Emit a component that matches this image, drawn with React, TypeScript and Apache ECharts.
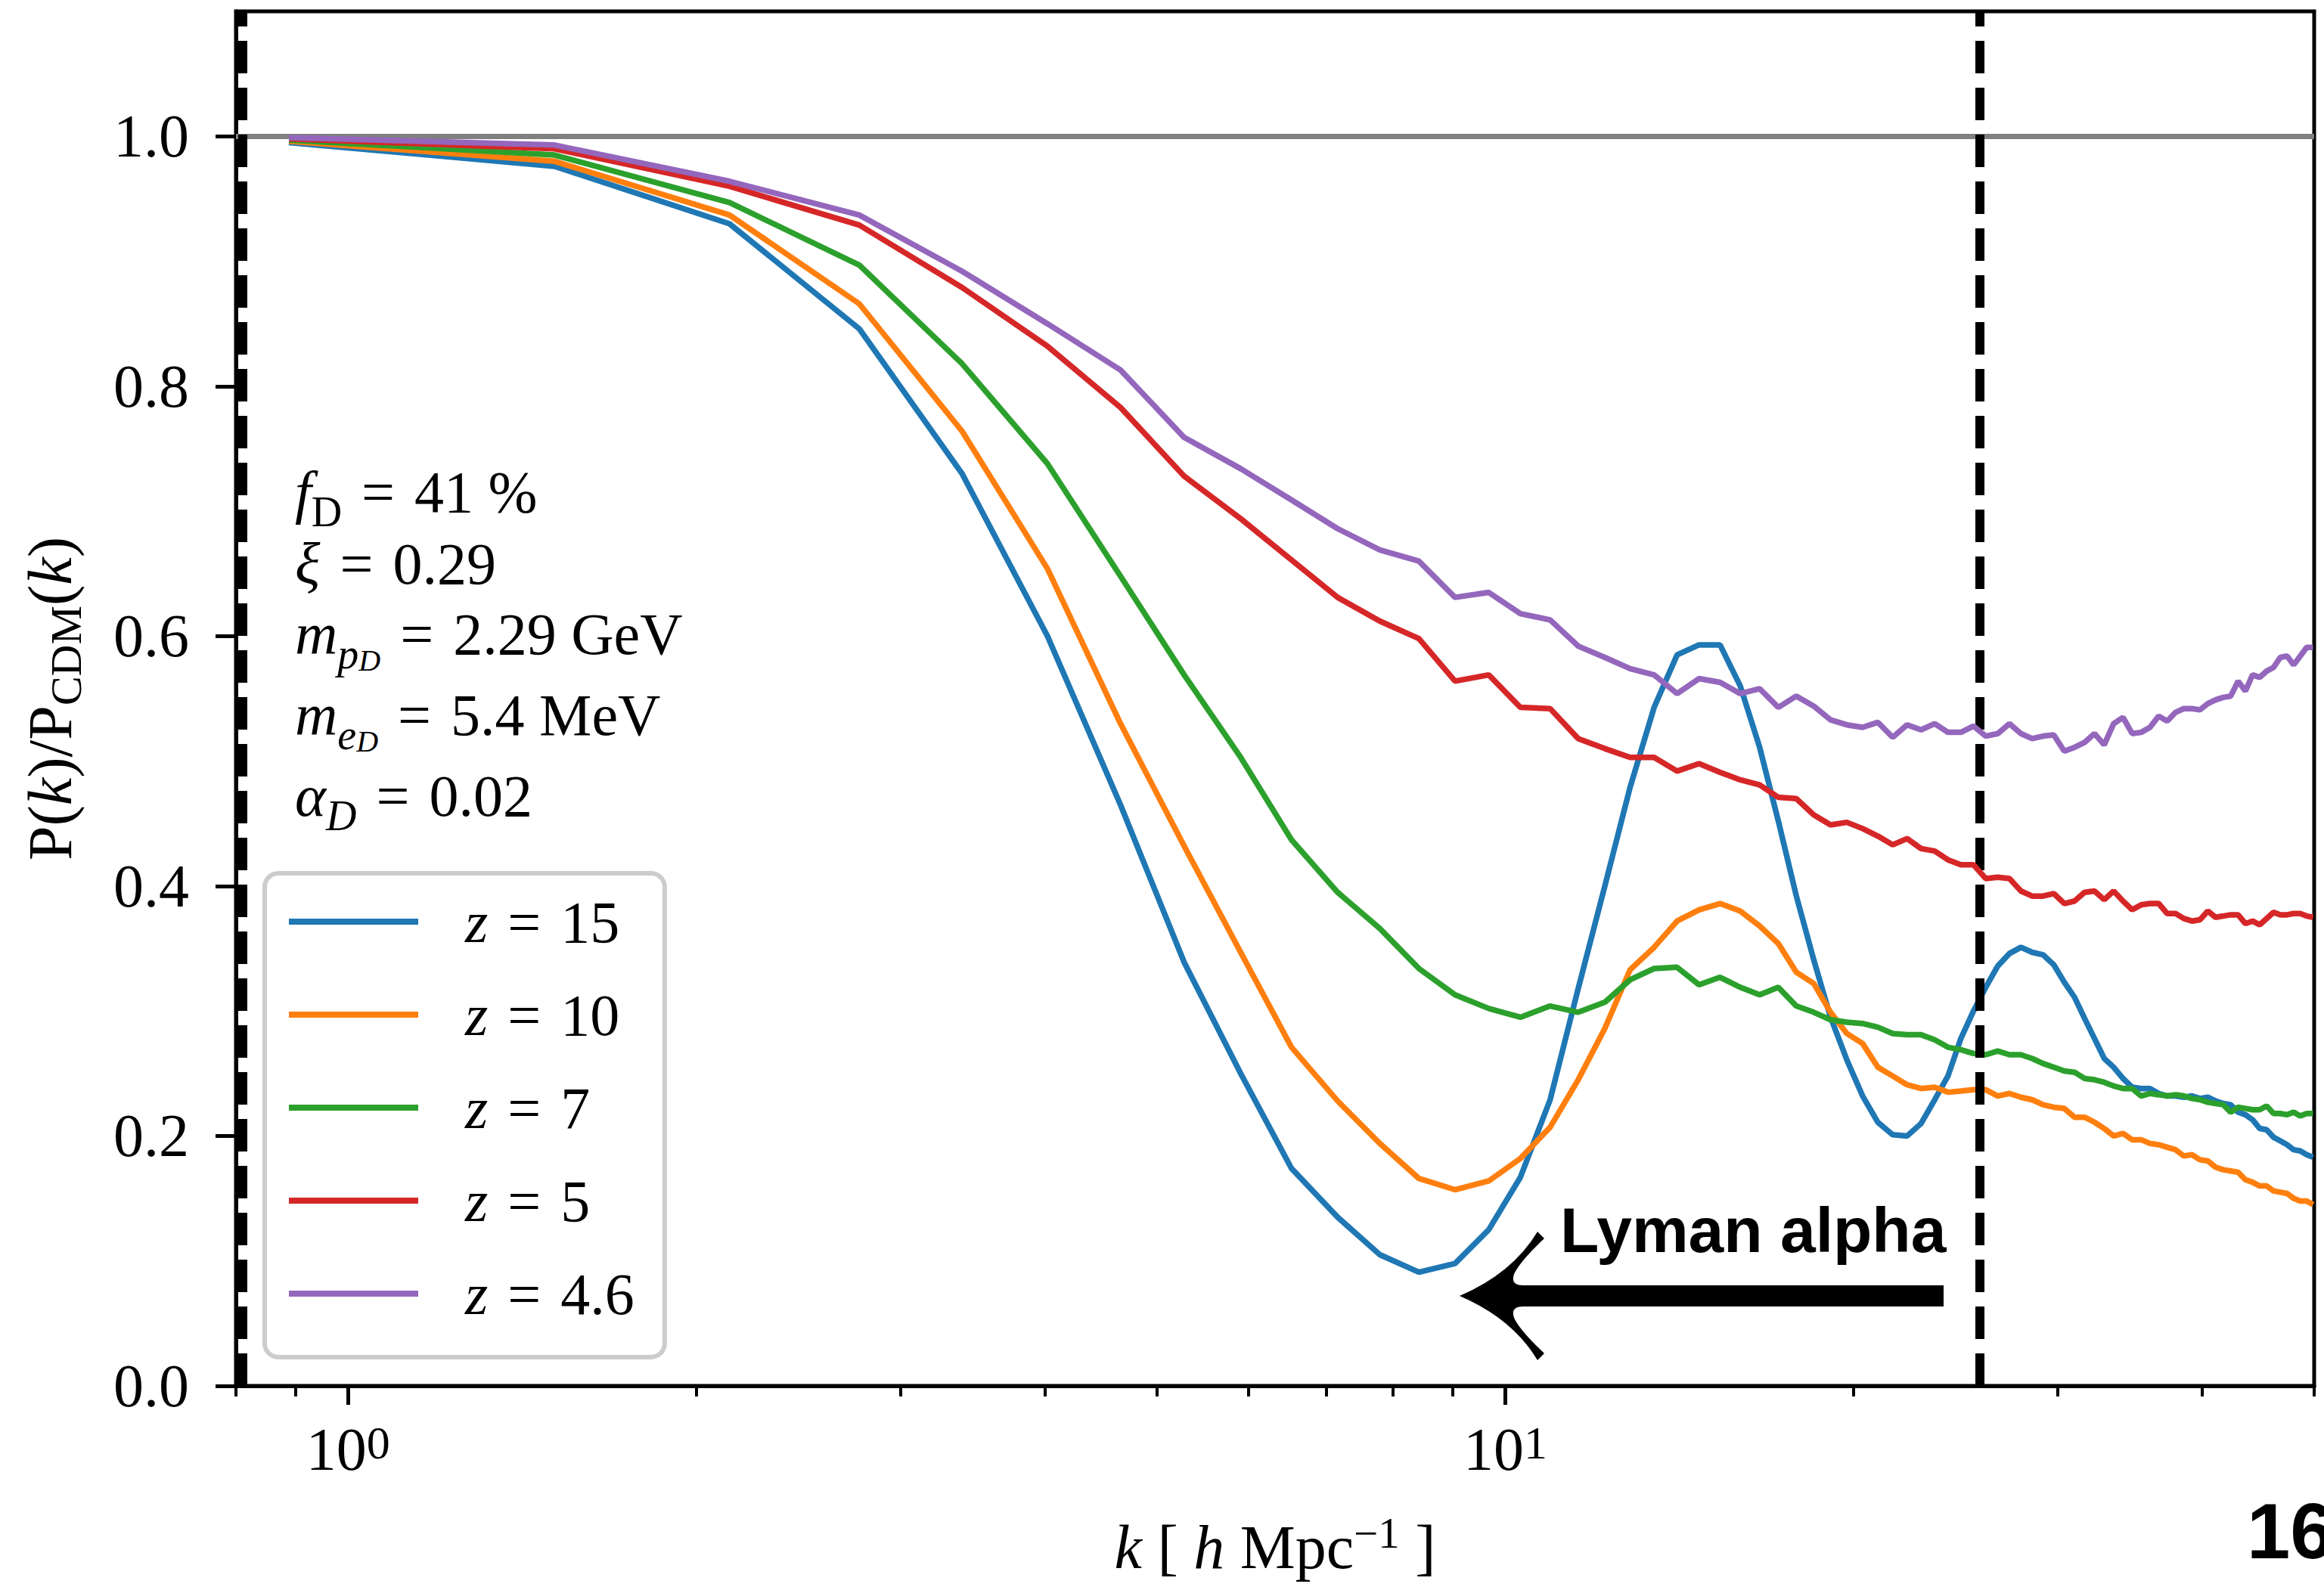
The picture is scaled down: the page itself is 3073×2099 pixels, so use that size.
import React, { useEffect, useRef } from "react";
import * as echarts from "echarts";

const SERIF = '"Liberation Serif", "DejaVu Serif", serif';
const SP = "\u2004";

// wavenumber bins k [h/Mpc]
const kValues = [
  0.889, 1.508, 2.136, 2.765, 3.393, 4.021, 4.65, 5.278, 5.906, 6.535,
  7.163, 7.791, 8.42, 9.048, 9.676, 10.305, 10.933, 11.561, 12.19, 12.818,
  13.446, 14.075, 14.703, 15.331, 15.96, 16.588, 17.216, 17.844, 18.473, 19.101,
  19.729, 20.358, 20.986, 21.614, 22.243, 22.871, 23.499, 24.127, 24.756, 25.384,
  26.013, 26.641, 27.269, 27.898, 28.526, 29.154, 29.782, 30.411, 31.039, 31.667,
  32.296, 32.924, 33.552, 34.181, 34.809, 35.437, 36.066, 36.694, 37.322, 37.95,
  38.579, 39.207, 39.835, 40.464, 41.092, 41.72, 42.349, 42.977, 43.605, 44.233,
  44.862, 45.49, 46.118, 46.747, 47.375, 48.003, 48.632, 49.26, 49.888,
];

const ratioZ15 = [
  0.995, 0.976, 0.93, 0.846, 0.73, 0.6, 0.465, 0.339, 0.25, 0.174,
  0.135, 0.105, 0.091, 0.098, 0.125, 0.167, 0.229, 0.318, 0.4, 0.479,
  0.543, 0.585, 0.593, 0.593, 0.56, 0.511, 0.452, 0.392, 0.341, 0.295,
  0.261, 0.232, 0.211, 0.201, 0.2, 0.21, 0.229, 0.248, 0.278, 0.3,
  0.319, 0.336, 0.346, 0.351, 0.347, 0.345, 0.337, 0.323, 0.311, 0.294,
  0.278, 0.262, 0.255, 0.246, 0.239, 0.238, 0.238, 0.234, 0.232, 0.232,
  0.231, 0.232, 0.23, 0.231, 0.228, 0.226, 0.225, 0.219, 0.217, 0.213,
  0.206, 0.205, 0.199, 0.196, 0.193, 0.189, 0.188, 0.185, 0.183,
];

const ratioZ10 = [
  0.996, 0.98, 0.937, 0.866, 0.764, 0.654, 0.53, 0.432, 0.347, 0.271,
  0.228, 0.194, 0.166, 0.157, 0.164, 0.182, 0.207, 0.245, 0.286, 0.333,
  0.351, 0.372, 0.381, 0.386, 0.38, 0.368, 0.354, 0.331, 0.322, 0.299,
  0.282, 0.274, 0.255, 0.248, 0.241, 0.238, 0.239, 0.235, 0.236, 0.237,
  0.237, 0.232, 0.234, 0.231, 0.229, 0.225, 0.223, 0.222, 0.215, 0.215,
  0.211, 0.206, 0.2, 0.202, 0.197, 0.197, 0.194, 0.193, 0.191, 0.189,
  0.184, 0.185, 0.181, 0.18, 0.175, 0.173, 0.172, 0.171, 0.165, 0.163,
  0.16, 0.16, 0.156, 0.155, 0.154, 0.15, 0.148, 0.148, 0.145,
];

const ratioZ7 = [
  0.997, 0.985, 0.947, 0.897, 0.818, 0.738, 0.648, 0.569, 0.503, 0.437,
  0.395, 0.366, 0.334, 0.313, 0.302, 0.295, 0.304, 0.299, 0.307, 0.325,
  0.334, 0.335, 0.321, 0.327, 0.319, 0.313, 0.319, 0.304, 0.299, 0.293,
  0.291, 0.29, 0.287, 0.282, 0.281, 0.281, 0.277, 0.271, 0.269, 0.266,
  0.265, 0.268, 0.265, 0.265, 0.262, 0.258, 0.255, 0.252, 0.251, 0.246,
  0.245, 0.243, 0.24, 0.238, 0.238, 0.232, 0.234, 0.233, 0.232, 0.233,
  0.232, 0.23, 0.229, 0.227, 0.226, 0.225, 0.219, 0.223, 0.222, 0.221,
  0.221, 0.224, 0.218, 0.218, 0.217, 0.219, 0.216, 0.218, 0.218,
];

const ratioZ5 = [
  0.998, 0.99, 0.96, 0.929, 0.879, 0.832, 0.783, 0.728, 0.694, 0.661,
  0.631, 0.612, 0.598, 0.564, 0.569, 0.543, 0.542, 0.518, 0.51, 0.503,
  0.503, 0.492, 0.498, 0.491, 0.485, 0.481, 0.471, 0.47, 0.457, 0.449,
  0.451, 0.446, 0.44, 0.433, 0.438, 0.43, 0.428, 0.421, 0.417, 0.417,
  0.406, 0.407, 0.406, 0.396, 0.392, 0.392, 0.394, 0.386, 0.388, 0.395,
  0.396, 0.389, 0.396, 0.388, 0.381, 0.385, 0.386, 0.386, 0.378, 0.378,
  0.374, 0.372, 0.373, 0.38, 0.375, 0.376, 0.377, 0.377, 0.37, 0.372,
  0.369, 0.374, 0.379, 0.377, 0.377, 0.378, 0.378, 0.376, 0.375,
];

const ratioZ46 = [
  0.999, 0.993, 0.964, 0.937, 0.892, 0.85, 0.813, 0.759, 0.734, 0.709,
  0.686, 0.669, 0.66, 0.631, 0.635, 0.618, 0.613, 0.592, 0.583, 0.574,
  0.569, 0.554, 0.566, 0.563, 0.554, 0.558, 0.543, 0.552, 0.544, 0.533,
  0.529, 0.527, 0.531, 0.519, 0.529, 0.525, 0.53, 0.523, 0.523, 0.528,
  0.52, 0.522, 0.53, 0.522, 0.518, 0.52, 0.521, 0.508, 0.511, 0.515,
  0.522, 0.513, 0.53, 0.535, 0.522, 0.523, 0.527, 0.536, 0.532, 0.539,
  0.542, 0.542, 0.541, 0.546, 0.549, 0.551, 0.552, 0.564, 0.556, 0.569,
  0.567, 0.572, 0.575, 0.583, 0.584, 0.577, 0.584, 0.591, 0.591,
];

const seriesNames = ["z = 15", "z = 10", "z = 7", "z = 5", "z = 4.6"];
const seriesValues = [ratioZ15, ratioZ10, ratioZ7, ratioZ5, ratioZ46];
const seriesColors = ["#1f77b4", "#ff7f0e", "#2ca02c", "#d62728", "#9467bd"];

const yTicks = [0, 0.2, 0.4, 0.6, 0.8, 1.0];
const xMajorTicks = [1, 10];
const xMinorTicks = [0.8, 0.9, 2, 3, 4, 5, 6, 7, 8, 9, 20, 30, 40, 50];
const referenceLevel = 1.0;
const lymanAlphaK = 25.7;
const lowCutK = 0.81;

const paramLines = [
  "{it|f}{subr|D}{n|" + SP + "=" + SP + "41 %}",
  "{it|ξ}{n|" + SP + "=" + SP + "0.29}",
  "{it|m}{subi|p}{subsub|D}{n|" + SP + "=" + SP + "2.29 GeV}",
  "{it|m}{subi|e}{subsub|D}{n|" + SP + "=" + SP + "5.4 MeV}",
  "{it|α}{subi|D}{n|" + SP + "=" + SP + "0.02}",
];
const paramCenters = [650, 745, 838, 945, 1052];

const arrowPath =
  "M0 0 Q70 -30 103 -85 L112 -76 Q80 -46 72 -29 Q67 -14 84 -14 L640 -14 L640 14 L84 14 Q67 14 72 29 Q80 46 112 76 L103 85 Q70 30 0 0 Z";
echarts.graphic.registerShape("lyArrow", echarts.graphic.extendPath(arrowPath, {}));

export default function App() {
  const ref = useRef<HTMLDivElement>(null);

  useEffect(() => {
    document.body.style.margin = "0";
    const chart = echarts.init(ref.current!, null, { renderer: "svg" });

    const paramRich = {
      n: { fontSize: 78, fontFamily: SERIF, lineHeight: 110, color: "#000" },
      it: { fontSize: 78, fontFamily: SERIF, fontStyle: "italic", lineHeight: 110, color: "#000" },
      subr: { fontSize: 56, fontFamily: SERIF, lineHeight: 63, verticalAlign: "bottom", color: "#000" },
      subi: { fontSize: 56, fontFamily: SERIF, fontStyle: "italic", lineHeight: 63, verticalAlign: "bottom", color: "#000" },
      subsub: { fontSize: 40, fontFamily: SERIF, fontStyle: "italic", lineHeight: 16, verticalAlign: "bottom", color: "#000" },
    };

    const series: any[] = seriesNames.map((name, i) => ({
      name,
      type: "line",
      xAxisIndex: 0,
      yAxisIndex: 0,
      data: kValues.map((k, j) => [k, seriesValues[i][j]]),
      showSymbol: false,
      symbol: "none",
      color: seriesColors[i],
      itemStyle: { color: seriesColors[i] },
      lineStyle: { width: 7.5, color: seriesColors[i] },
      z: 2 + i,
    }));

    series[0].markLine = {
      silent: true,
      symbol: ["none", "none"],
      label: { show: false },
      animation: false,
      data: [
        { yAxis: referenceLevel, lineStyle: { color: "#808080", width: 7, type: "solid" } },
        { xAxis: lymanAlphaK, lineStyle: { color: "#000", width: 12, type: [43, 19] } },
        { xAxis: lowCutK, lineStyle: { color: "#000", width: 12, type: [43, 19] } },
      ],
    };

    chart.setOption({
      animation: false,
      backgroundColor: "#ffffff",
      grid: {
        left: 312,
        right: 13,
        top: 15,
        bottom: 263,
        show: true,
        borderColor: "#000",
        borderWidth: 5,
        backgroundColor: "transparent",
      },
      legend: {
        data: seriesNames,
        orient: "vertical",
        left: 350,
        top: 1155,
        padding: [24, 40, 44, 32],
        icon: "rect",
        itemWidth: 171,
        itemHeight: 8,
        itemGap: 43,
        selectedMode: false,
        backgroundColor: "#ffffff",
        borderColor: "#cccccc",
        borderWidth: 6,
        borderRadius: 18,
        formatter: (name: string) => "{i|z}" + name.slice(1).split(" ").join(SP),
        textStyle: {
          fontFamily: SERIF,
          fontSize: 78,
          color: "#000",
          lineHeight: 80,
          padding: [0, 0, 0, 57],
          rich: {
            i: { fontFamily: SERIF, fontSize: 78, fontStyle: "italic", lineHeight: 80, color: "#000" },
          },
        },
      },
      xAxis: [
        {
          type: "log",
          logBase: 10,
          min: 0.8,
          max: 50,
          position: "bottom",
          name: "{i|k} [ {i|h} Mpc{sup|−1} ]",
          nameLocation: "middle",
          nameGap: 166,
          nameTextStyle: {
            fontFamily: SERIF,
            fontSize: 82,
            lineHeight: 95,
            color: "#000",
            rich: {
              i: { fontFamily: SERIF, fontSize: 82, fontStyle: "italic", lineHeight: 95, color: "#000" },
              sup: { fontFamily: SERIF, fontSize: 57, lineHeight: 40, verticalAlign: "top", color: "#000" },
            },
          },
          axisLine: { show: true, lineStyle: { color: "#000", width: 5 } },
          axisTick: { show: true, customValues: xMajorTicks, length: 25, lineStyle: { color: "#000", width: 5 } },
          axisLabel: {
            show: true,
            customValues: xMajorTicks,
            margin: 44,
            formatter: (v: number) => "{b|10}{s|" + Math.round(Math.log10(v)) + "}",
            rich: {
              b: { fontFamily: SERIF, fontSize: 80, lineHeight: 80, color: "#000" },
              s: { fontFamily: SERIF, fontSize: 62, lineHeight: 34, verticalAlign: "top", color: "#000" },
            },
          },
          splitLine: { show: false },
          minorTick: { show: false },
        },
        {
          type: "log",
          logBase: 10,
          min: 0.8,
          max: 50,
          position: "bottom",
          axisLine: { show: false },
          axisTick: { show: true, customValues: xMinorTicks, length: 14, lineStyle: { color: "#000", width: 4 } },
          axisLabel: { show: false },
          splitLine: { show: false },
        },
      ],
      yAxis: {
        type: "value",
        min: 0,
        max: 1.1,
        interval: 0.2,
        name: "P({i|k})/P{sub|CDM}({i|k})",
        nameLocation: "middle",
        nameRotate: 90,
        nameGap: 196,
        nameTextStyle: {
          fontFamily: SERIF,
          fontSize: 82,
          lineHeight: 100,
          color: "#000",
          rich: {
            i: { fontFamily: SERIF, fontSize: 82, fontStyle: "italic", lineHeight: 100, color: "#000" },
            sub: { fontFamily: SERIF, fontSize: 58, lineHeight: 48, verticalAlign: "bottom", color: "#000" },
          },
        },
        axisLine: { show: true, lineStyle: { color: "#000", width: 5 } },
        axisTick: { show: true, customValues: yTicks, length: 27, lineStyle: { color: "#000", width: 5 } },
        axisLabel: {
          show: true,
          customValues: yTicks,
          margin: 62,
          fontFamily: SERIF,
          fontSize: 80,
          color: "#000",
          formatter: (v: number) => v.toFixed(1),
        },
        splitLine: { show: false },
      },
      series,
      graphic: [
        ...paramLines.map((t, i) => ({
          type: "text",
          x: 390,
          y: paramCenters[i],
          z: 20,
          style: {
            text: t,
            rich: paramRich,
            fontFamily: SERIF,
            fontSize: 78,
            lineHeight: 110,
            fill: "#000",
            align: "left",
            verticalAlign: "middle",
            textAlign: "left",
            textVerticalAlign: "middle",
          },
        })),
        {
          type: "lyArrow",
          x: 1930,
          y: 1714,
          z: 30,
          style: { fill: "#000", stroke: "none" },
        },
        {
          type: "text",
          x: 2063,
          y: 1627,
          z: 30,
          style: {
            text: "Lyman alpha",
            font: 'bold 84px "Liberation Sans", Arial, sans-serif',
            fill: "#000",
            align: "left",
            verticalAlign: "middle",
            textAlign: "left",
            textVerticalAlign: "middle",
          },
        },
        {
          type: "text",
          x: 2971,
          y: 2025,
          z: 30,
          style: {
            text: "16",
            font: 'bold 103px "Liberation Sans", Arial, sans-serif',
            fill: "#000",
            align: "left",
            verticalAlign: "middle",
            textAlign: "left",
            textVerticalAlign: "middle",
          },
        },
      ],
    });

    return () => chart.dispose();
  }, []);

  return (
    <div
      ref={ref}
      style={{ position: "fixed", left: 0, top: 0, width: 3073, height: 2099, background: "#fff" }}
    />
  );
}
